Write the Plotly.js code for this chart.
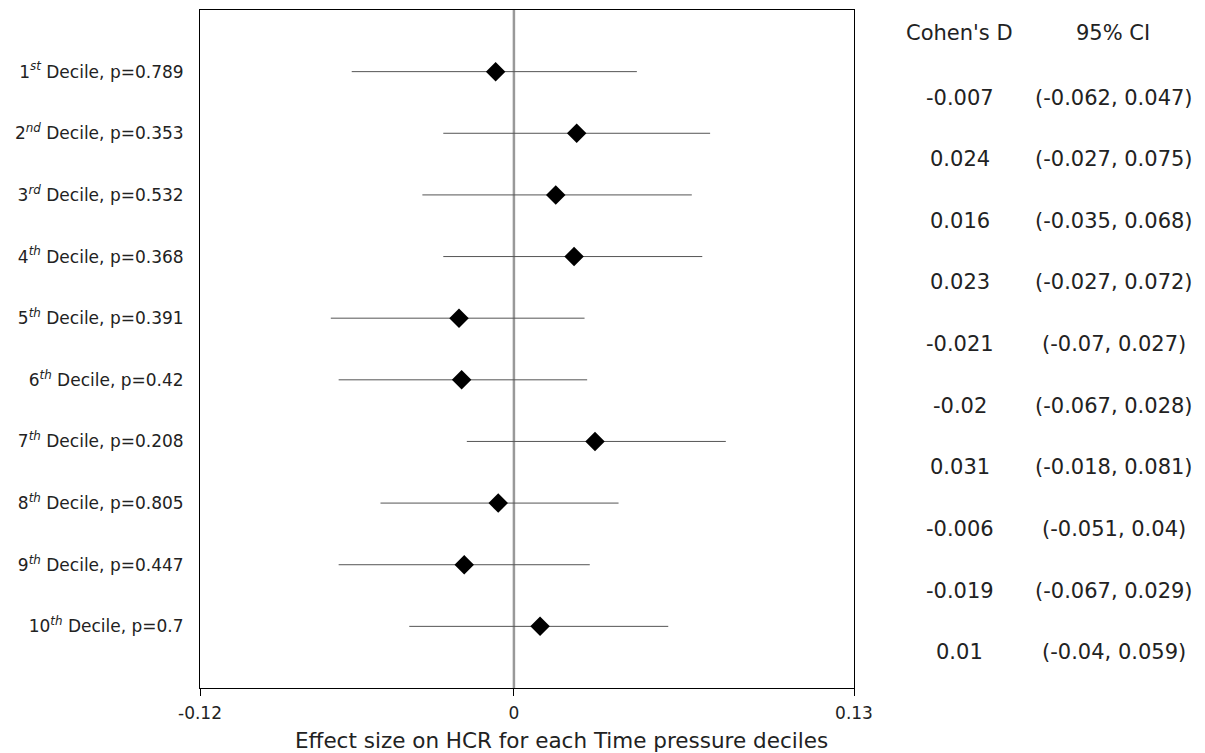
<!DOCTYPE html>
<html>
<head>
<meta charset="utf-8">
<script src="https://cdn.plot.ly/plotly-3.0.1.min.js"></script>
<style>html,body{margin:0;padding:0;background:#fff;}#chart{width:1205px;height:753px;}</style>
</head>
<body>
<div id="chart"></div>
<script>
const deciles = ["1", "2", "3", "4", "5", "6", "7", "8", "9", "10"];
const suffixes = ["st", "nd", "rd", "th", "th", "th", "th", "th", "th", "th"];
const pValues = ["0.789", "0.353", "0.532", "0.368", "0.391", "0.42", "0.208", "0.805", "0.447", "0.7"];
const cohensD = [-0.007, 0.024, 0.016, 0.023, -0.021, -0.02, 0.031, -0.006, -0.019, 0.01];
const ciLow = [-0.062, -0.027, -0.035, -0.027, -0.07, -0.067, -0.018, -0.051, -0.067, -0.04];
const ciHigh = [0.047, 0.075, 0.068, 0.072, 0.027, 0.028, 0.081, 0.04, 0.029, 0.059];
const xTickVals = [-0.12, 0, 0.13];
const xTickText = ["-0.12", "0", "0.13"];
const xTitle = "Effect size on HCR for each Time pressure deciles";

const idx = deciles.map((_, i) => i);
const tickText = deciles.map((d, i) => d + "<sup><i>" + suffixes[i] + "</i></sup> Decile, p=" + pValues[i]);

const trace = {
  type: "scatter",
  mode: "markers",
  x: cohensD,
  y: idx,
  marker: {symbol: "diamond", size: 15, color: "#000"},
  error_x: {
    type: "data",
    symmetric: false,
    array: cohensD.map((v, i) => ciHigh[i] - v),
    arrayminus: cohensD.map((v, i) => v - ciLow[i]),
    width: 0,
    thickness: 1,
    color: "#555"
  },
  hoverinfo: "skip",
  showlegend: false
};

const font = "DejaVu Sans, sans-serif";
const txtColor = "#222";
const annotations = [];
annotations.push({xref: "paper", yref: "paper", x: 1.162, y: 0.966, text: "Cohen's D", showarrow: false, xanchor: "center", yanchor: "middle", font: {family: font, size: 21, color: txtColor}});
annotations.push({xref: "paper", yref: "paper", x: 1.396, y: 0.966, text: "95% CI", showarrow: false, xanchor: "center", yanchor: "middle", font: {family: font, size: 21, color: txtColor}});
idx.forEach(i => {
  annotations.push({xref: "paper", yref: "y", x: 1.162, y: i + 0.42, text: String(cohensD[i]), showarrow: false, xanchor: "center", yanchor: "middle", font: {family: font, size: 21, color: txtColor}});
  annotations.push({xref: "paper", yref: "y", x: 1.398, y: i + 0.42, text: "(" + ciLow[i] + ", " + ciHigh[i] + ")", showarrow: false, xanchor: "center", yanchor: "middle", font: {family: font, size: 21, color: txtColor}});
});
annotations.push({xref: "paper", yref: "paper", x: 0.553, y: -0.077, text: xTitle, showarrow: false, xanchor: "center", yanchor: "middle", font: {family: font, size: 21.5, color: txtColor}});

const layout = {
  width: 1205,
  height: 753,
  margin: {l: 200, r: 351, t: 10, b: 65},
  paper_bgcolor: "#fff",
  plot_bgcolor: "#fff",
  font: {family: font, color: txtColor},
  xaxis: {
    range: [-0.12, 0.13],
    tickvals: xTickVals,
    ticktext: xTickText,
    ticks: "outside",
    ticklen: 7,
    tickwidth: 1,
    tickcolor: "#000",
    ticklabelstandoff: 3,
    tickfont: {family: font, size: 17, color: txtColor},
    showgrid: false,
    zeroline: false,
    showline: true,
    linecolor: "#000",
    linewidth: 1,
    mirror: true
  },
  yaxis: {
    range: [10, -1],
    tickvals: idx,
    ticktext: tickText,
    ticks: "",
    ticklabelstandoff: 12,
    tickfont: {family: font, size: 17, color: txtColor},
    showgrid: false,
    zeroline: false,
    showline: true,
    linecolor: "#000",
    linewidth: 1,
    mirror: true
  },
  shapes: [{
    type: "line", layer: "below", xref: "x", yref: "paper",
    x0: xTickVals[1], x1: xTickVals[1], y0: 0, y1: 1,
    line: {color: "#999", width: 2.5}
  }],
  annotations: annotations
};

Plotly.newPlot("chart", [trace], layout, {displayModeBar: false, staticPlot: true});
</script>
</body>
</html>
